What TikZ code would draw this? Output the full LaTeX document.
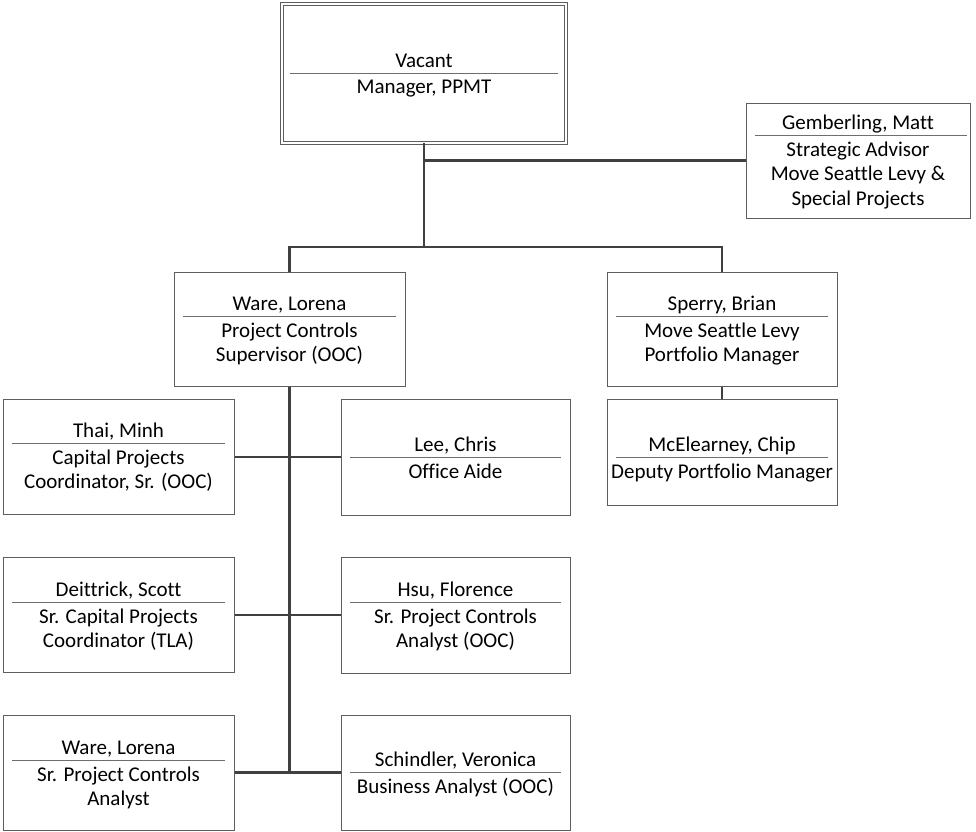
\documentclass[tikz,border=0pt]{standalone}
\usepackage{fontspec}
\setmainfont{Carlito}[Ligatures={NoCommon}]
\definecolor{boxgray}{HTML}{5E5E5E}
\definecolor{divgray}{HTML}{6E6E6E}
\definecolor{conngray}{HTML}{404040}
\tikzset{
  orgbox/.style={draw=boxgray, line width=1pt, fill=white, inner sep=0pt},
  divl/.style={draw=divgray, line width=1pt},
  conn/.style={draw=conngray, line width=2.4pt},
  txt/.style={inner sep=0pt, anchor=base, font=\fontsize{21}{25}\selectfont, text=black}
}
% [#1 right inset] #2 id, #3 cx, #4 cy, #5 w, #6 h, #7 divider y, #8 name, #9 role lines
\newcommand\pers[9][9]{%
  \node[orgbox, minimum width=#5pt, minimum height=#6pt] (#2) at (#3,#4) {};
  \draw[divl] ({#3-#5/2+9},#7) -- ({#3+#5/2-#1},#7);
  \node[txt] (#2-n) at (#3,{#7-6}) {#8};
  \foreach \r [count=\i from 0] in {#9} {
    \node[txt] (#2-r\i) at (#3,{#7+21+24.5*\i}) {\r};
  }%
}
\begin{document}
\begin{tikzpicture}[x=1pt,y=-1pt]
\useasboundingbox[fill=white] (0,0) rectangle (976,831);

% top box with double border
\node[draw=boxgray, double=white, double distance=2.6pt, line width=0.9pt, inner sep=0pt,
      minimum width=284pt, minimum height=139pt] (top) at (424,73.5) {};
\draw[divl] (290,73) -- (558,73);
\node[txt] (top-n) at (424,67) {Vacant};
\node[txt] (top-r0) at (424,93) {Manager, PPMT};

\pers[3]{gem}{858}{160.5}{224}{115}{135}{Gemberling, Matt}{Strategic Advisor,Move Seattle Levy \&,Special Projects}
\pers{ware}{289.5}{329}{231}{114}{316}{Ware, Lorena}{Project Controls,Supervisor (OOC)}
\pers{sperry}{722}{329}{230}{114}{316}{Sperry, Brian}{Move Seattle Levy,Portfolio Manager}
\pers{mcel}{722}{452}{230}{106}{457}{McElearney, Chip}{Deputy Portfolio Manager}
\pers{thai}{118.5}{457}{231}{115}{443}{Thai, Minh}{Capital Projects,{Coordinator, Sr. (OOC)}}
\pers{lee}{455.5}{457}{229}{116}{457}{Lee, Chris}{Office Aide}
\pers{deit}{118.5}{615}{231}{115}{602}{Deittrick, Scott}{Sr. Capital Projects,Coordinator (TLA)}
\pers{hsu}{455.5}{615}{229}{116}{602}{Hsu, Florence}{Sr. Project Controls,Analyst (OOC)}
\pers{wareb}{118.5}{772.5}{231}{115}{760}{Ware, Lorena}{Sr. Project Controls,Analyst}
\pers{schin}{455.5}{772.5}{229}{115}{772}{Schindler, Veronica}{Business Analyst (OOC)}

% connectors
\coordinate (bus) at (424,247);
\draw[conn] (top.south) -- (bus);
\draw[conn] (top.south |- gem.west) -- (gem.west);
\draw[conn] (ware.north) -- (ware.north |- bus) -- (sperry.north |- bus) -- (sperry.north);
\draw[conn] (sperry.south) -- (mcel.north);
\draw[conn] (ware.south) -- (ware.south |- wareb.east);
\draw[conn] (thai.east) -- (lee.west);
\draw[conn] (deit.east) -- (hsu.west);
\draw[conn] (wareb.east) -- (schin.west);
\end{tikzpicture}
\end{document}
